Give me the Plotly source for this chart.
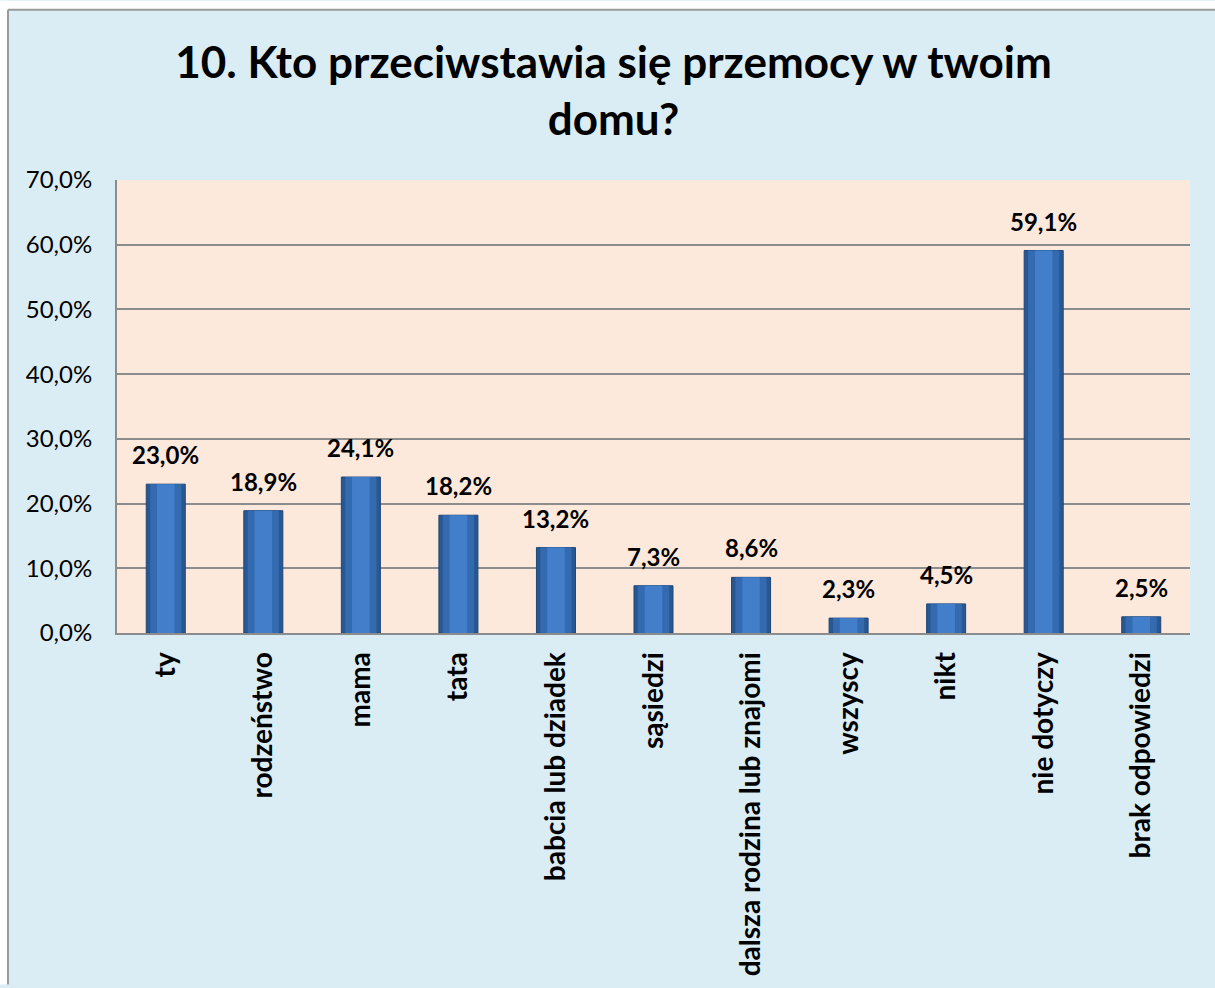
import plotly.graph_objects as go

categories = ["ty", "rodzeństwo", "mama", "tata", "babcia lub dziadek", "sąsiedzi",
              "dalsza rodzina lub znajomi", "wszyscy", "nikt", "nie dotyczy", "brak odpowiedzi"]
values = [0.230, 0.189, 0.241, 0.182, 0.132, 0.073, 0.086, 0.023, 0.045, 0.591, 0.025]
y_ticks = [0, 0.1, 0.2, 0.3, 0.4, 0.5, 0.6, 0.7]
title_text = "10. Kto przeciwstawia się przemocy w twoim<br>domu?"

W, H = 1215, 988
L, R, T, B = 117, 25, 180, 353
pw, ph = W - L - R, H - T - B

def px_x(x):
    return (x - L) / pw

def px_y(y):
    return (H - B - y) / ph

FONT = "Lato, 'Open Sans', sans-serif"

fig = go.Figure()
fig.add_trace(go.Bar(
    x=categories, y=values, width=0.4,
    marker=dict(color="#285892", line=dict(color="#1E4679", width=1)),
    hoverinfo="skip",
))
fig.add_trace(go.Bar(
    x=categories, y=values, width=0.32,
    marker=dict(color="#336AB0", line=dict(width=0)),
    hoverinfo="skip",
))
fig.add_trace(go.Bar(
    x=categories, y=values, width=0.18,
    marker=dict(color="#427ECA", line=dict(width=0)),
    hoverinfo="skip",
))

annotations = [
    dict(x=c, y=v, xref="x", yref="y", text=f"{v * 100:.1f}%".replace(".", ","),
         showarrow=False, yanchor="bottom", yshift=13,
         font=dict(family=FONT, size=24, color="black", weight="bold"))
    for c, v in zip(categories, values)
]

fig.update_layout(
    width=W, height=H,
    margin=dict(l=L, r=R, t=T, b=B),
    paper_bgcolor="#DBEDF4",
    plot_bgcolor="#FDE9DB",
    barmode="overlay",
    showlegend=False,
    separators=", ",
    annotations=annotations,
    title=dict(text=title_text, x=0.505, xanchor="center", yref="container",
               y=1 - 78 / H, yanchor="top",
               font=dict(family=FONT, size=44, color="black", weight="bold")),
    xaxis=dict(tickangle=-90, tickfont=dict(family=FONT, size=28, color="black", weight="bold"),
               showline=True, linecolor="#8C8C8C", linewidth=2, mirror=False,
               showgrid=False, ticks="", ticklabelstandoff=6, fixedrange=True),
    yaxis=dict(range=[0, 0.7], tickvals=y_ticks, tickformat=".1%",
               tickfont=dict(family=FONT, size=24, color="black"),
               showgrid=True, gridcolor="#8C8C8C", gridwidth=1.5,
               showline=True, linecolor="#8C8C8C", linewidth=2,
               ticks="", ticklabelstandoff=18, zeroline=False, fixedrange=True),
    shapes=[
        dict(type="rect", xref="paper", yref="paper", layer="below",
             x0=px_x(0), x1=px_x(W), y0=px_y(0), y1=px_y(9),
             fillcolor="white", line=dict(width=0)),
        dict(type="rect", xref="paper", yref="paper", layer="below",
             x0=px_x(0), x1=px_x(8), y0=px_y(H), y1=px_y(0),
             fillcolor="white", line=dict(width=0)),
        dict(type="line", xref="paper", yref="paper",
             x0=px_x(8), x1=px_x(W), y0=px_y(9), y1=px_y(9),
             line=dict(color="#9A9A9A", width=2)),
        dict(type="line", xref="paper", yref="paper",
             x0=px_x(8), x1=px_x(8), y0=px_y(9), y1=px_y(H),
             line=dict(color="#9A9A9A", width=2)),
    ],
)

fig.write_html("out.html", config={"displayModeBar": False},
               post_script="document.body.style.margin='0';document.body.style.overflow='hidden';")
